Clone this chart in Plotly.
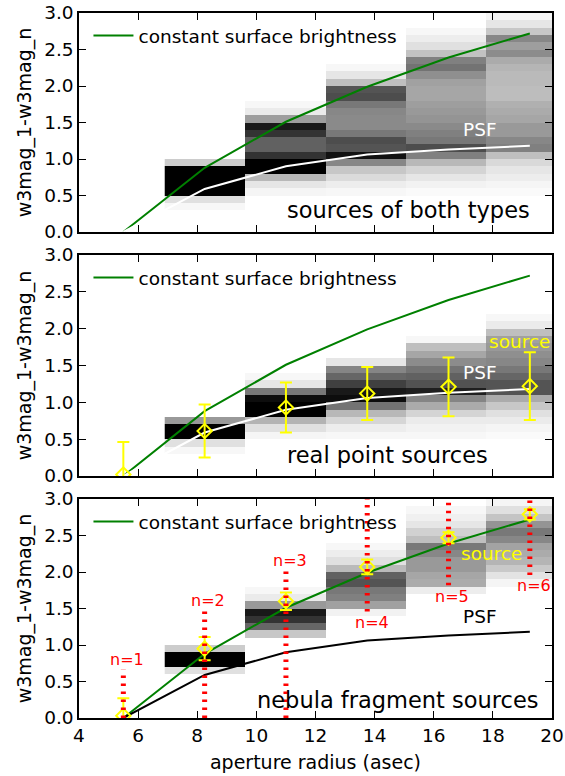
import plotly.graph_objects as go

# ---------------- data ----------------
radius = [5.5, 8.25, 11.0, 13.75, 16.5, 19.25]
const_sb = [0.0, 0.88, 1.51, 1.99, 2.39, 2.72]
psf = [0.0, 0.59, 0.90, 1.06, 1.13, 1.18]

col_edges = [6.9, 9.63, 12.35, 15.07, 17.79, 20.5]
bin_edges = [round(0.1 * i, 1) for i in range(31)]

# each column: (lowest bin start, grey intensities going upward in 0.1 mag bins)
both_cols = [
    (0.3, [0.03, 0.12, 1.0, 1.0, 1.0, 1.0, 0.2]),
    (0.5, [0.04, 0.1, 0.28, 1.0, 1.0, 0.8, 0.62, 0.62, 0.8, 0.9, 0.38, 0.08, 0.03]),
    (0.5, [0.03, 0.07, 0.14, 0.22, 0.47, 0.93, 0.67, 0.7, 0.53, 0.46, 0.46, 0.47,
           0.53, 0.7, 0.67, 0.25, 0.1, 0.03]),
    (0.5, [0.02, 0.05, 0.1, 0.17, 0.28, 0.5, 0.7, 0.53, 0.5, 0.46, 0.42, 0.4, 0.38,
           0.35, 0.35, 0.37, 0.44, 0.55, 0.5, 0.24, 0.12, 0.07, 0.03]),
    (0.5, [0.02, 0.04, 0.07, 0.1, 0.15, 0.25, 0.5, 0.47, 0.4, 0.4, 0.35, 0.33, 0.31,
           0.26, 0.26, 0.27, 0.27, 0.29, 0.33, 0.45, 0.38, 0.47, 0.22, 0.1, 0.04]),
]
point_cols = [
    (0.3, [0.03, 0.12, 1.0, 1.0, 0.4]),
    (0.5, [0.04, 0.12, 0.3, 1.0, 1.0, 0.95, 0.53, 0.1, 0.03]),
    (0.5, [0.03, 0.07, 0.16, 0.28, 0.55, 0.95, 0.9, 0.75, 0.6, 0.48, 0.1]),
    (0.5, [0.03, 0.05, 0.08, 0.17, 0.33, 0.48, 0.88, 0.68, 0.62, 0.55, 0.45, 0.35,
           0.25, 0.03]),
    (0.5, [0.02, 0.04, 0.08, 0.12, 0.22, 0.33, 0.67, 0.67, 0.6, 0.53, 0.47, 0.44,
           0.4, 0.37, 0.25, 0.08, 0.03]),
]
nebula_cols = [
    (0.6, [0.12, 1.0, 1.0, 0.2]),
    (1.1, [0.22, 0.6, 0.8, 0.9, 0.4, 0.08, 0.03]),
    (1.4, [0.05, 0.37, 0.5, 0.53, 0.67, 0.62, 0.27, 0.12, 0.07, 0.03]),
    (1.7, [0.07, 0.33, 0.35, 0.4, 0.4, 0.47, 0.53, 0.25, 0.18, 0.1, 0.06, 0.03]),
    (1.8, [0.04, 0.11, 0.21, 0.29, 0.33, 0.36, 0.47, 0.53, 0.42, 0.23, 0.12, 0.04]),
]

point_y = [0.02, 0.61, 0.93, 1.12, 1.21, 1.22]
point_err = [0.44, 0.36, 0.34, 0.36, 0.40, 0.46]

nebula_y = [0.03, 0.95, 1.60, 2.07, 2.47, 2.79]
nebula_err = [0.24, 0.16, 0.12, 0.10, 0.075, 0.07]

n_labels = ["n=1", "n=2", "n=3", "n=4", "n=5", "n=6"]
n_lo = [0.0, 0.0, 0.0, 1.46, 1.82, 1.96]
n_hi = [0.66, 1.46, 2.02, 3.0, 3.0, 3.0]
n_label_x = [5.63, 8.37, 11.14, 13.91, 16.62, 19.39]
n_label_y = [0.80, 1.61, 2.16, 1.31, 1.67, 1.82]

# ---------------- figure ----------------
FONT = "DejaVu Sans"
W, H = 565, 776
ML, MR, MT, MB = 79, 13, 13, 58
PH = H - MT - MB
domains = [
    [(718 - 232) / PH, 1.0],
    [(718 - 476) / PH, (718 - 255) / PH],
    [0.0, (718 - 499) / PH],
]


def grid(cols):
    z = [[None] * len(cols) for _ in range(len(bin_edges) - 1)]
    for j, (lo, vals) in enumerate(cols):
        i0 = int(round(lo * 10))
        for k, v in enumerate(vals):
            z[i0 + k][j] = v
    return z


fig = go.Figure()
axes = [("x", "y"), ("x2", "y2"), ("x3", "y3")]
legends = ["legend", "legend2", "legend3"]
panels = [both_cols, point_cols, nebula_cols]
psf_colors = ["white", "white", "black"]

for p, (xa, ya) in enumerate(axes):
    fig.add_trace(go.Heatmap(
        x=col_edges, y=bin_edges, z=grid(panels[p]),
        colorscale=[[0, "#ffffff"], [1, "#000000"]], zmin=0, zmax=1,
        showscale=False, hoverinfo="skip", xaxis=xa, yaxis=ya))
    fig.add_trace(go.Scatter(
        x=radius, y=const_sb, mode="lines", name="constant surface brightness",
        line=dict(color="#008000", width=2), xaxis=xa, yaxis=ya,
        legend=legends[p], showlegend=True))
    fig.add_trace(go.Scatter(
        x=radius, y=psf, mode="lines", line=dict(color=psf_colors[p], width=2),
        xaxis=xa, yaxis=ya, showlegend=False))

# yellow source points
for (xa, ya), yy, ee in [(axes[1], point_y, point_err), (axes[2], nebula_y, nebula_err)]:
    fig.add_trace(go.Scatter(
        x=radius, y=yy, mode="markers",
        marker=dict(symbol="diamond-open", size=11, color="#ffff00",
                    line=dict(width=2, color="#ffff00")),
        error_y=dict(type="data", array=ee, color="#ffff00", thickness=2, width=6),
        xaxis=xa, yaxis=ya, showlegend=False, cliponaxis=True))

# red dotted n-ranges
rx, ry = [], []
for x0, lo, hi in zip(radius, n_lo, n_hi):
    rx += [x0, x0, None]
    ry += [lo, hi, None]
fig.add_trace(go.Scatter(
    x=rx, y=ry, mode="lines", line=dict(color="#ff0000", width=5, dash="2.5px,5.5px"),
    xaxis="x3", yaxis="y3", showlegend=False))

ann = []
titles = ["sources of both types", "real point sources", "nebula fragment sources"]
title_pos = [(15.13, 0.30), (14.42, 0.29), (14.79, 0.24)]
psf_y = [1.40, 1.40, 1.39]
for p, (xa, ya) in enumerate(axes):
    ann.append(dict(x=title_pos[p][0], y=title_pos[p][1], xref=xa, yref=ya,
                    text=titles[p], showarrow=False, font=dict(size=22.5, color="black")))
    ann.append(dict(x=17.57, y=psf_y[p], xref=xa, yref=ya, text="PSF", showarrow=False,
                    font=dict(size=18.5, color=psf_colors[p])))
ann.append(dict(x=18.9, y=1.83, xref="x2", yref="y2", text="source", showarrow=False,
                font=dict(size=18.5, color="#ffff00")))
ann.append(dict(x=17.95, y=2.25, xref="x3", yref="y3", text="source", showarrow=False,
                font=dict(size=18.5, color="#ffff00")))
for t, lx, ly in zip(n_labels, n_label_x, n_label_y):
    ann.append(dict(x=lx, y=ly, xref="x3", yref="y3", text=t, showarrow=False,
                    font=dict(size=16, color="#ff0000")))

xticks = [4, 6, 8, 10, 12, 14, 16, 18, 20]
yticks = [0, 0.5, 1.0, 1.5, 2.0, 2.5, 3.0]
layout = dict(
    width=W, height=H, margin=dict(l=ML, r=MR, t=MT, b=MB, autoexpand=False),
    paper_bgcolor="white", plot_bgcolor="white",
    font=dict(family=FONT, size=18.5, color="black"),
    annotations=ann,
)
for p in range(3):
    sfx = "" if p == 0 else str(p + 1)
    layout["xaxis" + sfx] = dict(
        domain=[0, 1], range=[4, 20], anchor="y" + sfx, tickvals=xticks,
        ticks="inside", ticklen=7, tickwidth=1, tickcolor="black", mirror="ticks",
        showline=True, linecolor="black", linewidth=1.5, showgrid=False, zeroline=False,
        showticklabels=(p == 2), tickfont=dict(size=18.5), automargin=False,
        title=dict(text="aperture radius (asec)" if p == 2 else "", font=dict(size=19),
                   standoff=11))
    layout["yaxis" + sfx] = dict(
        domain=domains[p], range=[0, 3], anchor="x" + sfx, tickvals=yticks,
        tickformat=".1f", ticks="inside", ticklen=7, tickwidth=1, tickcolor="black",
        mirror="ticks", showline=True, linecolor="black", linewidth=1.5,
        showgrid=False, zeroline=False, tickfont=dict(size=18.5), automargin=False,
        title=dict(text="w3mag_1-w3mag_n", font=dict(size=19), standoff=7))
    layout[legends[p]] = dict(
        x=0.02, y=domains[p][1] - 23 / PH, xanchor="left", yanchor="middle",
        bgcolor="rgba(0,0,0,0)", borderwidth=0, font=dict(size=18.5),
        itemwidth=40)
fig.update_layout(**layout)
fig.write_html("out.html")
